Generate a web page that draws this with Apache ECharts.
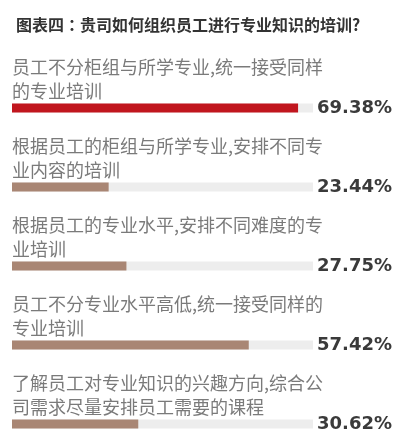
<!DOCTYPE html>
<html>
<head>
<meta charset="utf-8">
<script src="https://cdn.jsdelivr.net/npm/echarts@6/dist/echarts.min.js"></script>
<style>
html,body{margin:0;padding:0;background:#fff;}
#main{width:408px;height:445px;}
</style>
</head>
<body>
<div id="main"></div>
<script>
var titleText = '图表四：贵司如何组织员工进行专业知识的培训?';
var categories = [
  '员工不分柜组与所学专业,统一接受同样\n的专业培训',
  '根据员工的柜组与所学专业,安排不同专\n业内容的培训',
  '根据员工的专业水平,安排不同难度的专\n业培训',
  '员工不分专业水平高低,统一接受同样的\n专业培训',
  '了解员工对专业知识的兴趣方向,综合公\n司需求尽量安排员工需要的课程'
];
var values = [69.38, 23.44, 27.75, 57.42, 30.62];
var highlightIndex = 0;
var dotEnd = 73;

var chart = echarts.init(document.getElementById('main'));
var barData = values.map(function (v, i) {
  return {
    value: v,
    itemStyle: { color: i === highlightIndex ? '#c1161e' : '#a98674' }
  };
});
chart.setOption({
  backgroundColor: '#ffffff',
  animation: false,
  title: {
    text: titleText,
    left: 11,
    top: 12,
    textStyle: {
      fontSize: 16,
      fontWeight: 'bold',
      color: '#333333',
      fontFamily: 'Noto Sans CJK TC'
    }
  },
  grid: { left: 12, right: 95, top: 108, bottom: 21 },
  xAxis: {
    type: 'value',
    min: 0,
    max: dotEnd,
    show: false
  },
  yAxis: [{
    type: 'category',
    data: categories,
    inverse: true,
    boundaryGap: false,
    axisLine: { show: false },
    axisTick: { show: false },
    axisLabel: { show: false },
    splitLine: { show: false }
  }, {
    type: 'category',
    position: 'right',
    data: values.map(function (v) { return v.toFixed(2) + '%'; }),
    inverse: true,
    boundaryGap: false,
    axisLine: { show: false },
    axisTick: { show: false },
    splitLine: { show: false },
    axisLabel: {
      inside: false,
      margin: 79,
      align: 'right',
      verticalAlign: 'middle',
      fontSize: 18,
      fontWeight: 'bold',
      color: '#3a3a3a',
      fontFamily: 'DejaVu Sans'
    }
  }],
  series: [{
    type: 'bar',
    z: 2,
    data: barData,
    barWidth: 9,
    showBackground: true,
    backgroundStyle: { color: '#ededed' },
    label: {
      show: true,
      position: [0, -48],
      align: 'left',
      verticalAlign: 'top',
      formatter: function (p) { return categories[p.dataIndex]; },
      fontSize: 18,
      lineHeight: 24,
      color: '#7a7a7a',
      fontFamily: 'Noto Sans CJK SC'
    }
  }]
});
</script>
</body>
</html>
